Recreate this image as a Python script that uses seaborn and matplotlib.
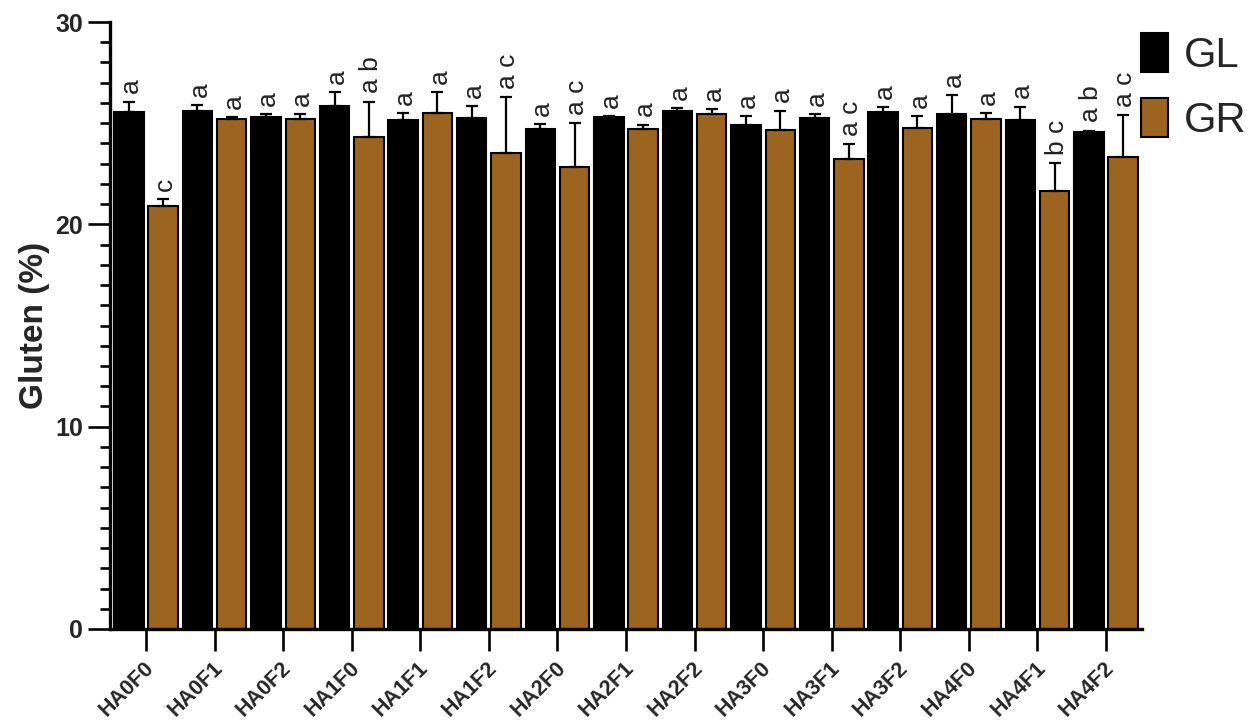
import numpy as np
import pandas as pd
import matplotlib
matplotlib.use("Agg")
import matplotlib.pyplot as plt
from matplotlib.ticker import MultipleLocator
from matplotlib.transforms import ScaledTranslation
import seaborn as sns

# Treatments (x categories) and flour fractions (hue levels)
treatments = ["HA0F0", "HA0F1", "HA0F2", "HA1F0", "HA1F1", "HA1F2", "HA2F0", "HA2F1",
              "HA2F2", "HA3F0", "HA3F1", "HA3F2", "HA4F0", "HA4F1", "HA4F2"]
fractions = ["GL", "GR"]

# Mean gluten content (%) per treatment
gl_mean = [25.57, 25.62, 25.29, 25.85, 25.18, 25.24, 24.70, 25.29,
           25.62, 24.91, 25.27, 25.57, 25.44, 25.16, 24.57]
gr_mean = [20.93, 25.21, 25.19, 24.30, 25.49, 23.51, 22.85, 24.73,
           25.46, 24.67, 23.22, 24.75, 25.19, 21.67, 23.35]

# Standard deviations (upper whiskers)
gl_sd = [0.50, 0.27, 0.15, 0.69, 0.33, 0.61, 0.25, 0.06,
         0.12, 0.42, 0.17, 0.22, 0.96, 0.66, 0.06]
gr_sd = [0.33, 0.09, 0.25, 1.77, 1.05, 2.77, 2.15, 0.20,
         0.23, 0.95, 0.74, 0.58, 0.30, 1.35, 2.06]

# Significance letters
gl_letters = ["a", "a", "a", "a", "a", "a", "a", "a", "a", "a", "a", "a", "a", "a", "a b"]
gr_letters = ["c", "a", "a", "a b", "a", "a c", "a c", "a", "a", "a", "a c", "a", "a", "b c", "a c"]

colors = {"GL": "#000000", "GR": "#9C6420"}

df = pd.DataFrame({
    "treatment": treatments * 2,
    "fraction": ["GL"] * len(treatments) + ["GR"] * len(treatments),
    "gluten": gl_mean + gr_mean,
})

sns.set_style("ticks")
plt.rcParams["font.family"] = ["Liberation Sans", "DejaVu Sans"]

fig = plt.figure(figsize=(12.58, 7.24), dpi=100)
ax = fig.add_axes([110 / 1258, 95 / 724, 1032 / 1258, 607 / 724])

sns.barplot(data=df, x="treatment", y="gluten", hue="fraction",
            order=treatments, hue_order=fractions, palette=colors, saturation=1,
            errorbar=None, width=1.0, gap=0.14,
            edgecolor="black", linewidth=1.5, ax=ax, zorder=2)

sds = {"GL": gl_sd, "GR": gr_sd}
letters = {"GL": gl_letters, "GR": gr_letters}
for container, frac in zip(ax.containers, fractions):
    xs = np.array([p.get_x() + p.get_width() / 2 for p in container])
    hs = np.array([p.get_height() for p in container])
    err = np.array(sds[frac])
    ax.errorbar(xs, hs, yerr=[np.zeros_like(err), err], fmt="none",
                ecolor="black", elinewidth=1.6, capsize=4.3, capthick=1.6, zorder=3)
    for x, top, lab in zip(xs, hs + err, letters[frac]):
        ax.annotate(lab, xy=(x, top), xytext=(1.5, 6), textcoords="offset points",
                    rotation=90, ha="center", va="bottom", fontsize=19,
                    color="#222222")

ax.set_xlim(-0.525, 14.525)
ax.set_ylim(0, 30)
ax.yaxis.set_major_locator(MultipleLocator(10))
ax.yaxis.set_minor_locator(MultipleLocator(1))

for side in ("top", "right"):
    ax.spines[side].set_visible(False)
for side in ("left", "bottom"):
    ax.spines[side].set_linewidth(2.4)
    ax.spines[side].set_color("black")

ax.tick_params(axis="y", which="major", length=16, width=1.9, pad=3.5,
               labelsize=18, direction="out", color="black")
ax.tick_params(axis="y", which="minor", length=7, width=1.9, direction="out", color="black")
ax.tick_params(axis="x", which="major", length=16, width=1.9, pad=10,
               labelsize=15.5, direction="out", color="black")
for lbl in ax.get_yticklabels():
    lbl.set_fontweight("bold")
shift = ScaledTranslation(5 / 100, 0, fig.dpi_scale_trans)
for lbl in ax.get_xticklabels():
    lbl.set_fontweight("bold")
    lbl.set_rotation(45)
    lbl.set_ha("right")
    lbl.set_va("center")
    lbl.set_rotation_mode("anchor")
    lbl.set_transform(lbl.get_transform() + shift)

ax.set_xlabel("")
ax.set_ylabel("Gluten (%)", fontsize=24, fontweight="bold")
ax.yaxis.set_label_coords(-0.058, 0.5)

handles, labels = ax.get_legend_handles_labels()
ax.get_legend().remove()
fig.legend(handles, labels, loc="upper left", bbox_to_anchor=(1141 / 1258, 1 - 33 / 724),
           frameon=False, fontsize=30, handlelength=0.64, handleheight=1.05,
           handletextpad=0.38, labelspacing=0.55, borderpad=0, borderaxespad=0)

fig.savefig("out.png", dpi=100)
